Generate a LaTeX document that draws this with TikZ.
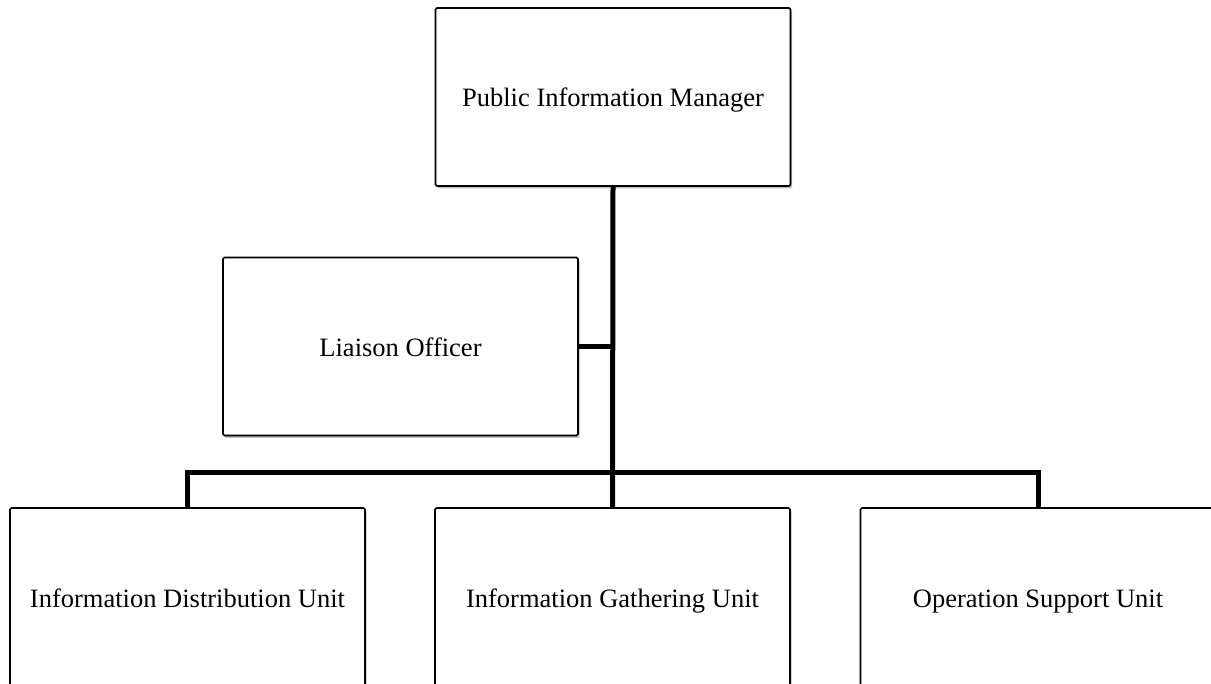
\documentclass[tikz,border=0pt]{standalone}
\usepackage{fontspec}
\setmainfont{Liberation Serif}
\usetikzlibrary{shadows}
\begin{document}
\begin{tikzpicture}[x=1pt,y=-1pt,
  orgbox/.style={draw=black, line width=1.6pt, fill=white, rounded corners=1.5pt,
    minimum width=355pt, minimum height=178pt, inner sep=0pt,
    text height=20pt, text depth=0pt,
    font=\fontsize{26.5}{30}\selectfont,
    drop shadow={shadow xshift=1.5pt, shadow yshift=-2.5pt, opacity=0.25, fill=black}},
  link/.style={line width=5pt}]
\useasboundingbox (0,0) rectangle (1211,684);
\clip (0,0) rectangle (1211,684);
\fill[white] (0,0) rectangle (1211,684);
\node[orgbox] (pim) at (613,97) {Public Information Manager};
\node[orgbox] (lo) at (400.5,346.5) {Liaison Officer};
\node[orgbox] (idu) at (187.5,597) {Information Distribution Unit};
\node[orgbox] (igu) at (612.5,597) {Information Gathering Unit};
\node[orgbox] (osu) at (1038,597) {Operation Support Unit};
\coordinate (bar) at (613,472.5);
\draw[link] (pim.south) -- (igu.north);
\draw[link] (lo.east) -- (lo.east -| pim.south);
\draw[link] (idu.north) |- (bar) -| (osu.north);
\end{tikzpicture}
\end{document}
